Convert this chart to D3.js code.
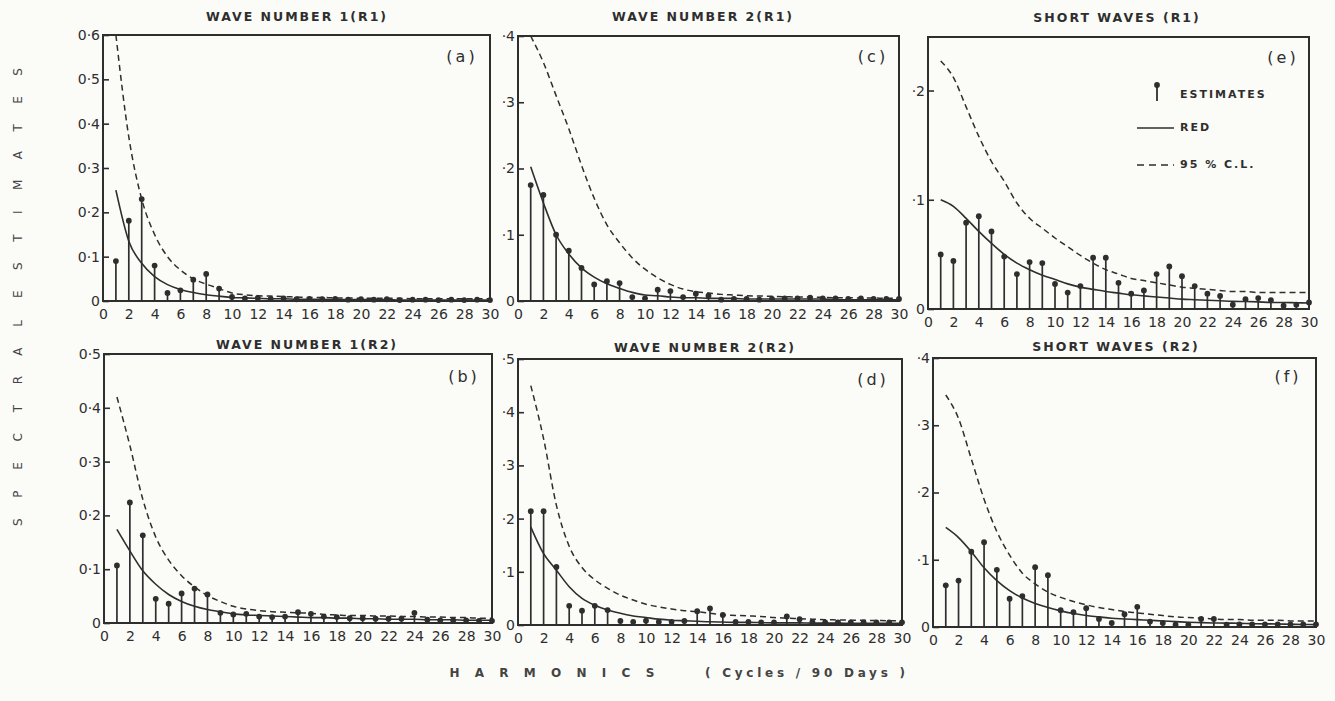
<!DOCTYPE html>
<html>
<head>
<meta charset="utf-8">
<script src="https://cdn.jsdelivr.net/npm/d3@7"></script>
<style>
  body { margin: 0; background: #fbfbf8; }
  svg { display: block; }
</style>
</head>
<body>
<div id="fig"></div>
<script>
//************* data ***************/
var harmonics = [1,2,3,4,5,6,7,8,9,10,11,12,13,14,15,16,17,18,19,20,21,22,23,24,25,26,27,28,29,30];
var xTicks = [0,2,4,6,8,10,12,14,16,18,20,22,24,26,28,30];

// (a) wave number 1 (R1)
var estA = [0.090,0.181,0.230,0.080,0.018,0.024,0.048,0.061,0.028,0.009,0.006,0.007,0.005,0.006,0.004,0.005,0.004,0.005,0.003,0.004,0.003,0.004,0.002,0.003,0.003,0.002,0.003,0.002,0.003,0.002];
var redA = [0.250,0.135,0.085,0.055,0.037,0.026,0.019,0.014,0.011,0.008,0.007,0.006,0.005,0.005,0.004,0.004,0.004,0.003,0.003,0.003,0.003,0.003,0.002,0.002,0.002,0.002,0.002,0.002,0.002,0.002];
var clA  = [0.600,0.370,0.230,0.150,0.100,0.070,0.050,0.038,0.028,0.018,0.014,0.012,0.011,0.010,0.009,0.008,0.008,0.007,0.007,0.006,0.006,0.006,0.006,0.005,0.005,0.005,0.005,0.005,0.005,0.005];

// (c) wave number 2 (R1)
var estC = [0.175,0.160,0.100,0.076,0.050,0.025,0.030,0.027,0.006,0.004,0.017,0.015,0.006,0.011,0.008,0.002,0.003,0.003,0.002,0.003,0.004,0.004,0.005,0.004,0.004,0.003,0.004,0.003,0.003,0.003];
var redC = [0.2025,0.148,0.100,0.071,0.050,0.036,0.026,0.019,0.013,0.009,0.008,0.006,0.005,0.005,0.004,0.004,0.004,0.003,0.003,0.003,0.003,0.003,0.003,0.003,0.002,0.002,0.002,0.002,0.002,0.002];
var clC  = [0.400,0.360,0.310,0.260,0.205,0.155,0.115,0.088,0.065,0.048,0.035,0.025,0.018,0.014,0.012,0.010,0.009,0.008,0.0075,0.007,0.0065,0.006,0.006,0.0055,0.005,0.005,0.0045,0.0045,0.004,0.004];

// (e) short waves (R1)
var estE = [0.050,0.044,0.079,0.085,0.071,0.048,0.032,0.043,0.042,0.023,0.015,0.021,0.047,0.047,0.024,0.014,0.017,0.032,0.039,0.030,0.021,0.014,0.012,0.004,0.009,0.010,0.008,0.003,0.004,0.006];
var redE = [0.100,0.094,0.083,0.071,0.060,0.050,0.042,0.036,0.031,0.027,0.023,0.020,0.018,0.016,0.0145,0.013,0.012,0.011,0.010,0.009,0.0085,0.008,0.0075,0.007,0.0068,0.0065,0.006,0.006,0.0057,0.0055];
var clE  = [0.227,0.212,0.185,0.158,0.135,0.117,0.097,0.083,0.074,0.065,0.057,0.049,0.042,0.036,0.032,0.028,0.026,0.024,0.022,0.020,0.019,0.018,0.017,0.016,0.016,0.015,0.015,0.015,0.015,0.015];

// (b) wave number 1 (R2)
var estB = [0.107,0.224,0.163,0.045,0.036,0.055,0.064,0.053,0.019,0.016,0.017,0.012,0.011,0.012,0.020,0.017,0.012,0.011,0.009,0.009,0.008,0.008,0.008,0.019,0.006,0.005,0.005,0.005,0.004,0.004];
var redB = [0.174,0.134,0.097,0.072,0.053,0.040,0.031,0.025,0.021,0.017,0.015,0.014,0.013,0.012,0.011,0.010,0.010,0.009,0.009,0.008,0.008,0.007,0.007,0.007,0.006,0.006,0.006,0.005,0.005,0.005];
var clB  = [0.420,0.330,0.230,0.160,0.117,0.088,0.067,0.051,0.040,0.031,0.026,0.023,0.021,0.020,0.019,0.018,0.016,0.015,0.014,0.014,0.013,0.013,0.012,0.012,0.011,0.011,0.010,0.010,0.009,0.009];

// (d) wave number 2 (R2)
var estD = [0.214,0.214,0.109,0.036,0.027,0.036,0.028,0.0075,0.006,0.008,0.006,0.006,0.0075,0.026,0.031,0.019,0.006,0.006,0.005,0.005,0.016,0.011,0.006,0.005,0.005,0.005,0.005,0.005,0.005,0.005];
var redD = [0.184,0.134,0.103,0.072,0.050,0.037,0.028,0.022,0.017,0.014,0.011,0.009,0.008,0.007,0.006,0.0055,0.005,0.005,0.0045,0.004,0.004,0.004,0.0035,0.0035,0.0035,0.003,0.003,0.003,0.003,0.003];
var clD  = [0.450,0.350,0.225,0.148,0.108,0.085,0.069,0.056,0.047,0.039,0.034,0.030,0.027,0.025,0.022,0.019,0.018,0.017,0.016,0.014,0.013,0.012,0.011,0.010,0.0095,0.009,0.0088,0.0085,0.008,0.008];

// (f) short waves (R2)
var estF = [0.062,0.069,0.112,0.126,0.085,0.042,0.046,0.089,0.077,0.025,0.022,0.028,0.012,0.006,0.019,0.030,0.008,0.006,0.0035,0.0035,0.012,0.012,0.0035,0.004,0.004,0.004,0.004,0.004,0.004,0.004];
var redF = [0.148,0.133,0.112,0.088,0.069,0.054,0.043,0.035,0.029,0.024,0.020,0.017,0.015,0.013,0.012,0.011,0.010,0.009,0.008,0.007,0.0065,0.006,0.0058,0.0055,0.005,0.0047,0.0045,0.004,0.0038,0.0035];
var clF  = [0.345,0.310,0.250,0.190,0.142,0.107,0.080,0.064,0.052,0.044,0.038,0.033,0.029,0.026,0.023,0.021,0.019,0.017,0.015,0.014,0.013,0.012,0.011,0.011,0.010,0.010,0.010,0.009,0.009,0.009];

// y tick values + labels
var yTicks6 = [0,0.1,0.2,0.3,0.4,0.5,0.6];
var yLabelsA = ["0","0·1","0·2","0·3","0·4","0·5","0·6"];
var yTicks5 = [0,0.1,0.2,0.3,0.4,0.5];
var yLabelsB = ["0","0·1","0·2","0·3","0·4","0·5"];
var yLabelsD = ["0","·1","·2","·3","·4","·5"];
var yTicks4 = [0,0.1,0.2,0.3,0.4];
var yLabelsC = ["0","·1","·2","·3","·4"];
var yTicks2 = [0,0.1,0.2];
var yLabelsE = ["0","·1","·2"];

var titles = ["WAVE NUMBER 1(R1)","WAVE NUMBER 2(R1)","SHORT WAVES (R1)",
              "WAVE NUMBER 1(R2)","WAVE NUMBER 2(R2)","SHORT WAVES (R2)"];
var tags = ["(a)","(c)","(e)","(b)","(d)","(f)"];
var legendLabels = ["ESTIMATES","RED","95 % C.L."];

//************* layout (slightly skewed like the scan) ***************/
var panels = [
  {left: 103, right: 490, top: 35,  bottom: 301, ymax: 0.6,  yt: yTicks6, yl: yLabelsA, est: estA, red: redA, cl: clA, tx: 297,  ty: 17,  lx: 462,  ly: 57},
  {left: 518, right: 899, top: 36,  bottom: 301, ymax: 0.4,  yt: yTicks4, yl: yLabelsC, est: estC, red: redC, cl: clC, tx: 703,  ty: 17,  lx: 873,  ly: 57},
  {left: 928, right: 1309, top: 37, bottom: 309, ymax: 0.249, yt: yTicks2, yl: yLabelsE, est: estE, red: redE, cl: clE, tx: 1117, ty: 18,  lx: 1283, ly: 58},
  {left: 104, right: 492, top: 354, bottom: 623, ymax: 0.5,  yt: yTicks5, yl: yLabelsB, est: estB, red: redB, cl: clB, tx: 307,  ty: 345, lx: 464,  ly: 377},
  {left: 518, right: 902, top: 359, bottom: 625, ymax: 0.5,  yt: yTicks5, yl: yLabelsD, est: estD, red: redD, cl: clD, tx: 705,  ty: 348, lx: 873,  ly: 380},
  {left: 933, right: 1316, top: 358, bottom: 627, ymax: 0.4, yt: yTicks4, yl: yLabelsC, est: estF, red: redF, cl: clF, tx: 1116, ty: 347, lx: 1288, ly: 377}
];

var ink = "#2e2e2e";
var font = "'DejaVu Sans', sans-serif";

//*************** setup svg *****************/
var svg = d3.select("#fig")
  .append("svg")
    .attr("width", 1335)
    .attr("height", 701);

svg.append("rect")
  .attr("width", 1335)
  .attr("height", 701)
  .attr("fill", "#fbfbf8");

//*********** draw one panel *************/
function drawPanel(p, k) {
  var x = d3.scaleLinear().domain([0, 30]).range([p.left, p.right]);
  var y = d3.scaleLinear().domain([0, p.ymax]).range([p.bottom, p.top]);
  var g = svg.append("g");

  // frame
  g.append("rect")
    .attr("x", p.left)
    .attr("y", p.top)
    .attr("width", p.right - p.left)
    .attr("height", p.bottom - p.top)
    .attr("fill", "none")
    .attr("stroke", ink)
    .attr("stroke-width", 2);

  // y axis, ticks point inwards
  var yAx = g.append("g")
    .attr("transform", "translate(" + p.left + ",0)")
    .call(d3.axisLeft(y).tickValues(p.yt).tickSize(-6).tickPadding(3)
      .tickFormat(function(d, i) { return p.yl[i]; }));
  yAx.select(".domain").remove();
  yAx.selectAll("line").attr("stroke", ink).attr("stroke-width", 1.6);
  yAx.selectAll("text")
    .attr("fill", ink)
    .style("font-family", font)
    .style("font-size", "14px");

  // x axis, labels only
  var xAx = g.append("g")
    .attr("transform", "translate(0," + p.bottom + ")")
    .call(d3.axisBottom(x).tickValues(xTicks).tickSize(0).tickPadding(8));
  xAx.select(".domain").remove();
  xAx.selectAll("text")
    .attr("fill", ink)
    .style("font-family", font)
    .style("font-size", "14px");

  // 95% C.L. (dashed)
  var line = d3.line()
    .x(function(d, i) { return x(harmonics[i]); })
    .y(function(d) { return y(d); })
    .curve(d3.curveMonotoneX);

  g.append("path")
    .datum(p.cl)
    .attr("d", line)
    .attr("fill", "none")
    .attr("stroke", ink)
    .attr("stroke-width", 1.5)
    .attr("stroke-dasharray", "6,4");

  // red noise (solid)
  g.append("path")
    .datum(p.red)
    .attr("d", line)
    .attr("fill", "none")
    .attr("stroke", ink)
    .attr("stroke-width", 1.6);

  // estimates: stems + dots
  g.selectAll("line.stem")
    .data(p.est)
    .enter()
    .append("line")
      .attr("class", "stem")
      .attr("x1", function(d, i) { return x(harmonics[i]); })
      .attr("x2", function(d, i) { return x(harmonics[i]); })
      .attr("y1", y(0))
      .attr("y2", function(d) { return y(d); })
      .attr("stroke", ink)
      .attr("stroke-width", 1.7);

  g.selectAll("circle.dot")
    .data(p.est)
    .enter()
    .append("circle")
      .attr("class", "dot")
      .attr("cx", function(d, i) { return x(harmonics[i]); })
      .attr("cy", function(d) { return y(d); })
      .attr("r", 2.9)
      .attr("fill", ink);

  // title above the panel
  g.append("text")
    .attr("x", p.tx)
    .attr("y", p.ty)
    .attr("text-anchor", "middle")
    .attr("dominant-baseline", "middle")
    .attr("fill", ink)
    .style("font-family", font)
    .style("font-size", "12.5px")
    .style("font-weight", "bold")
    .style("letter-spacing", "2px")
    .text(titles[k]);

  // panel tag
  g.append("text")
    .attr("x", p.lx)
    .attr("y", p.ly)
    .attr("text-anchor", "middle")
    .attr("dominant-baseline", "middle")
    .attr("fill", ink)
    .style("font-family", font)
    .style("font-size", "16px")
    .style("letter-spacing", "3px")
    .text(tags[k]);
}

panels.forEach(drawPanel);

//*************** legend (panel e) *****************/
var legend = svg.append("g").attr("transform", "translate(1137,0)");

legend.append("line")
  .attr("x1", 20).attr("x2", 20)
  .attr("y1", 85).attr("y2", 101)
  .attr("stroke", ink).attr("stroke-width", 1.8);
legend.append("circle")
  .attr("cx", 20).attr("cy", 85).attr("r", 2.9).attr("fill", ink);

legend.append("line")
  .attr("x1", 0).attr("x2", 37)
  .attr("y1", 128).attr("y2", 128)
  .attr("stroke", ink).attr("stroke-width", 1.6);

legend.append("line")
  .attr("x1", 0).attr("x2", 37)
  .attr("y1", 165).attr("y2", 165)
  .attr("stroke", ink).attr("stroke-width", 1.5)
  .attr("stroke-dasharray", "7,5");

legendLabels.forEach(function(t, i) {
  legend.append("text")
    .attr("x", 43)
    .attr("y", [95, 128, 165][i])
    .attr("dominant-baseline", "middle")
    .attr("fill", ink)
    .style("font-family", font)
    .style("font-size", "11px")
    .style("font-weight", "bold")
    .style("letter-spacing", "2px")
    .text(t);
});

//*************** axis labels *****************/
svg.append("text")
  .attr("transform", "translate(18,183) rotate(-90)")
  .attr("text-anchor", "middle")
  .attr("dominant-baseline", "middle")
  .attr("textLength", 230)
  .attr("lengthAdjust", "spacing")
  .attr("fill", "#444")
  .style("font-family", font)
  .style("font-size", "12px")
  .text("ESTIMATES");

svg.append("text")
  .attr("transform", "translate(18,423) rotate(-90)")
  .attr("text-anchor", "middle")
  .attr("dominant-baseline", "middle")
  .attr("textLength", 206)
  .attr("lengthAdjust", "spacing")
  .attr("fill", "#444")
  .style("font-family", font)
  .style("font-size", "12px")
  .text("SPECTRAL");

svg.append("text")
  .attr("x", 552)
  .attr("y", 673)
  .attr("text-anchor", "middle")
  .attr("dominant-baseline", "middle")
  .attr("textLength", 205)
  .attr("lengthAdjust", "spacing")
  .attr("fill", "#444")
  .style("font-family", font)
  .style("font-size", "12px")
  .style("font-weight", "bold")
  .text("HARMONICS");

svg.append("text")
  .attr("x", 805)
  .attr("y", 673)
  .attr("text-anchor", "middle")
  .attr("dominant-baseline", "middle")
  .attr("textLength", 200)
  .attr("lengthAdjust", "spacing")
  .attr("fill", "#444")
  .style("font-family", font)
  .style("font-size", "12px")
  .style("font-weight", "bold")
  .text("( Cycles / 90 Days )");
</script>
</body>
</html>
